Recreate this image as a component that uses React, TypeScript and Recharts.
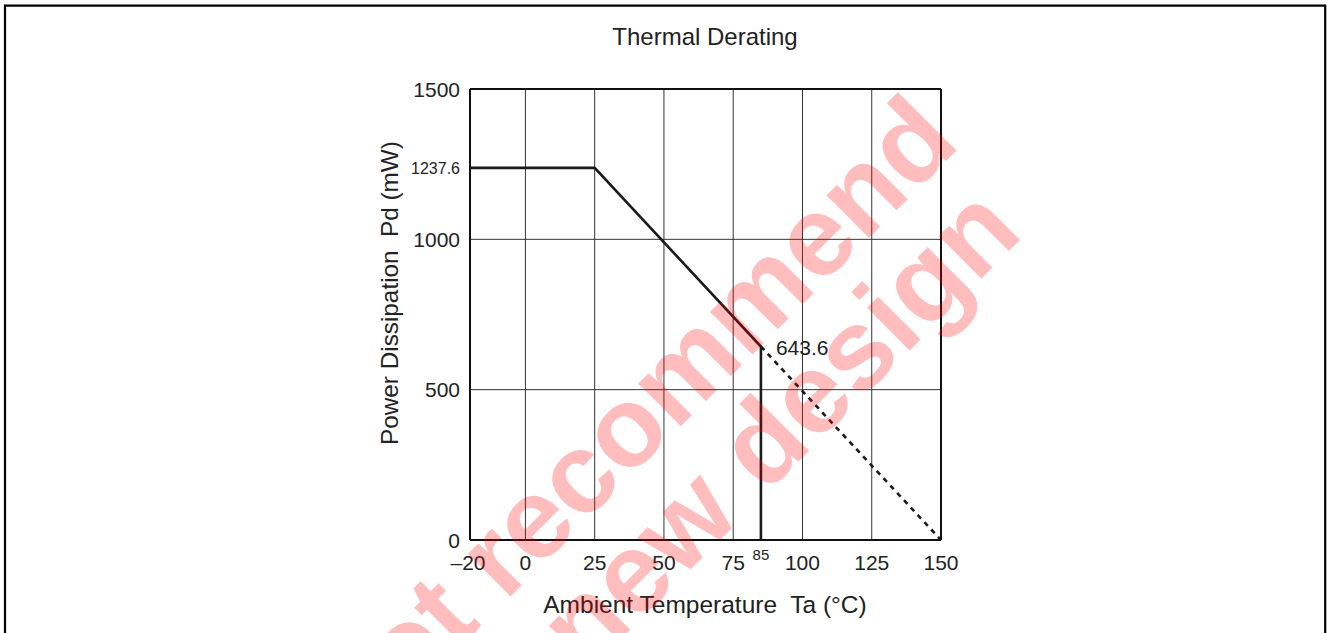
import React from "react";
import { LineChart, Line, XAxis, YAxis, ReferenceLine } from "recharts";

const FONT = "'Liberation Sans', Arial, Helvetica, sans-serif";

// Temperature axis ticks (°C)
const xTicks = [-20, 0, 25, 50, 75, 85, 100, 125, 150];
// Power axis ticks (mW)
const yTicks = [0, 500, 1000, 1237.6, 1500];
// Grid positions
const xGrid = [0, 25, 50, 75, 100, 125];
const yGrid = [500, 1000];

// Rated (solid) curve: temperature vs power
const ratedTemp = [-20, 25, 85, 85];
const ratedPower = [1237.6, 1237.6, 643.6, 0];
// Extrapolated (dashed) derating
const extTemp = [85, 150];
const extPower = [643.6, 0];

const ratedData = ratedTemp.map((t, i) => ({ t, p: ratedPower[i] }));
const extData = extTemp.map((t, i) => ({ t, p: extPower[i] }));

const XTick = (props: any) => {
  const { x, y, payload } = props;
  const v = payload.value;
  if (v === 85) {
    return (
      <text x={x} y={y + 20} textAnchor="middle" fontSize={15} fill="#222" fontFamily={FONT}>
        85
      </text>
    );
  }
  const label = v < 0 ? "\u2013" + Math.abs(v) : String(v);
  return (
    <text x={v < 0 ? x - 2 : x} y={y + 30} textAnchor="middle" fontSize={21} fill="#222" fontFamily={FONT}>
      {label}
    </text>
  );
};

const YTick = (props: any) => {
  const { x, y, payload } = props;
  const v = payload.value;
  if (v === 1237.6) {
    return (
      <text x={x} y={y + 6} textAnchor="end" fontSize={16} fill="#222" fontFamily={FONT}>
        1237.6
      </text>
    );
  }
  return (
    <text x={x} y={y + 7.5} textAnchor="end" fontSize={21} fill="#222" fontFamily={FONT}>
      {String(v)}
    </text>
  );
};

const PointLabel = (props: any) => {
  const { x, y, index } = props;
  if (index !== 2) return <g />;
  return (
    <text x={x + 15} y={y + 9} fontSize={21} fill="#222" fontFamily={FONT}>
      643.6
    </text>
  );
};

export default function App() {
  return (
    <div style={{ position: "absolute", left: 0, top: 0, width: 1330, height: 633, background: "#fff", overflow: "hidden" }}>
      <LineChart
        width={1330}
        height={633}
        margin={{ top: 89, right: 389, bottom: 63, left: 410 }}
      >
        <XAxis
          dataKey="t"
          type="number"
          domain={[-20, 150]}
          ticks={xTicks}
          allowDataOverflow
          height={30}
          tickSize={0}
          tickMargin={0}
          tickLine={false}
          axisLine={{ stroke: "#111", strokeWidth: 2 }}
          tick={<XTick />}
          interval={0}
        />
        <YAxis
          dataKey="p"
          type="number"
          domain={[0, 1500]}
          ticks={yTicks}
          allowDataOverflow
          width={60}
          tickSize={0}
          tickMargin={10}
          tickLine={false}
          axisLine={{ stroke: "#111", strokeWidth: 2 }}
          tick={<YTick />}
          interval={0}
        />
        {xGrid.map((g) => (
          <ReferenceLine key={"x" + g} x={g} stroke="#333" strokeWidth={1} />
        ))}
        {yGrid.map((g) => (
          <ReferenceLine key={"y" + g} y={g} stroke="#333" strokeWidth={1} />
        ))}
        <ReferenceLine y={1500} stroke="#111" strokeWidth={2} />
        <ReferenceLine x={150} stroke="#111" strokeWidth={2} />
        <Line
          data={ratedData}
          dataKey="p"
          type="linear"
          stroke="#1a1a1a"
          strokeWidth={2.6}
          dot={false}
          isAnimationActive={false}
          label={<PointLabel />}
        />
        <Line
          data={extData}
          dataKey="p"
          type="linear"
          stroke="#1a1a1a"
          strokeWidth={2.6}
          strokeDasharray="5 5"
          dot={false}
          isAnimationActive={false}
        />
      </LineChart>
      <svg
        width={1330}
        height={633}
        style={{ position: "absolute", left: 0, top: 0, pointerEvents: "none" }}
      >
        <text x={705} y={45} textAnchor="middle" fontSize={24} fill="#222" fontFamily={FONT}>
          Thermal Derating
        </text>
        <text x={705} y={613} textAnchor="middle" fontSize={24.5} fill="#222" fontFamily={FONT} style={{ whiteSpace: "pre" }}>
          {"Ambient Temperature  Ta (°C)"}
        </text>
        <text
          x={398}
          y={293}
          textAnchor="middle"
          fontSize={24.3}
          fill="#222"
          fontFamily={FONT}
          transform="rotate(-90 398 293)"
          style={{ whiteSpace: "pre" }}
        >
          {"Power Dissipation  Pd (mW)"}
        </text>
        <line x1={5} y1={4.7} x2={5} y2={633} stroke="#000" strokeWidth={2.2} />
        <line x1={4} y1={5.7} x2={1326} y2={5.7} stroke="#000" strokeWidth={2.2} />
        <line x1={1325.2} y1={4.7} x2={1325.2} y2={633} stroke="#000" strokeWidth={2.2} />
        <g fill="#ff0000" fillOpacity={0.26} fontFamily={FONT} fontWeight="bold" fontSize={114}>
          <text x={962} y={145} textAnchor="end" transform="rotate(-45 962 145)">
            Not recommend
          </text>
          <text x={1025} y={235} textAnchor="end" transform="rotate(-45 1025 235)">
            for new design
          </text>
        </g>
      </svg>
    </div>
  );
}
